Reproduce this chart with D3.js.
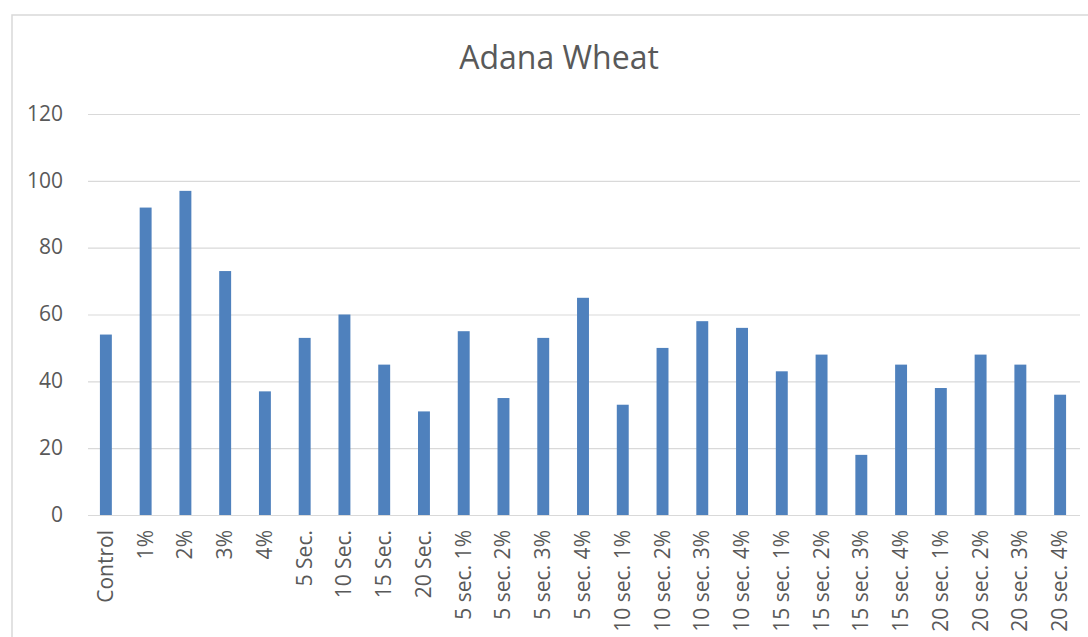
<!DOCTYPE html>
<html>
<head>
<meta charset="utf-8">
<script src="https://cdn.jsdelivr.net/npm/d3@7"></script>
<style>
  html, body { margin: 0; padding: 0; background: #ffffff; }
  svg { display: block; }
</style>
</head>
<body>
<svg id="chart" width="1088" height="637"></svg>
<script>
// Treatments along the x axis
const categories = [
  "Control", "1%", "2%", "3%", "4%",
  "5 Sec.", "10 Sec.", "15 Sec.", "20 Sec.",
  "5 sec. 1%", "5 sec. 2%", "5 sec. 3%", "5 sec. 4%",
  "10 sec. 1%", "10 sec. 2%", "10 sec. 3%", "10 sec. 4%",
  "15 sec. 1%", "15 sec. 2%", "15 sec. 3%", "15 sec. 4%",
  "20 sec. 1%", "20 sec. 2%", "20 sec. 3%", "20 sec. 4%"
];

// Measured value for each treatment
const values = [
  54, 92, 97, 73, 37,
  53, 60, 45, 31,
  55, 35, 53, 65,
  33, 50, 58, 56,
  43, 48, 18, 45,
  38, 48, 45, 36
];

// Value axis ticks
const yTicks = [0, 20, 40, 60, 80, 100, 120];

const title = "Adana Wheat";

const svg = d3.select("#chart");
const textColor = "#595959";
const gridColor = "#d9d9d9";
const barColor = "#4f81bd";
const font = "'Open Sans', 'Noto Sans', sans-serif";

// Chart frame
svg.append("rect")
  .attr("x", 12).attr("y", 15)
  .attr("width", 1200).attr("height", 700)
  .attr("fill", "#ffffff")
  .attr("stroke", gridColor)
  .attr("stroke-width", 1.5);

const x = d3.scaleBand()
  .domain(categories)
  .range([86, 1080])
  .paddingInner(0.7)
  .paddingOuter(0.35);

const y = d3.scaleLinear()
  .domain([0, 120])
  .range([515, 114]);

// Horizontal gridlines + value labels
const yAxis = d3.axisLeft(y)
  .tickValues(yTicks)
  .tickSize(-(1080 - 88))
  .tickPadding(25);

const gy = svg.append("g")
  .attr("transform", "translate(88,0)")
  .call(yAxis);
gy.select(".domain").remove();
gy.selectAll(".tick line")
  .attr("stroke", gridColor)
  .attr("stroke-width", 1.2);
gy.selectAll(".tick text")
  .attr("fill", textColor)
  .attr("font-family", font)
  .attr("font-size", 21)
  .attr("dy", "0.3em");

// Bars
svg.append("g")
  .selectAll("rect")
  .data(values)
  .join("rect")
  .attr("x", (d, i) => x(categories[i]))
  .attr("y", d => y(d))
  .attr("width", x.bandwidth())
  .attr("height", d => y(0) - y(d))
  .attr("fill", barColor);

// Category labels, rotated
const xAxis = d3.axisBottom(x).tickSize(0).tickPadding(0);
const gx = svg.append("g")
  .attr("transform", `translate(0,${y(0)})`)
  .call(xAxis);
gx.select(".domain")
  .attr("stroke", gridColor)
  .attr("stroke-width", 1.2)
  .attr("d", `M88,0.5H1080`);
gx.selectAll(".tick text")
  .attr("fill", textColor)
  .attr("font-family", font)
  .attr("font-size", 21)
  .attr("text-anchor", "end")
  .attr("dy", null)
  .attr("y", 0)
  .attr("transform", "translate(7,15) rotate(-90)");

// Title
svg.append("text")
  .attr("x", 559)
  .attr("y", 69)
  .attr("text-anchor", "middle")
  .attr("fill", textColor)
  .attr("font-family", font)
  .attr("font-size", 32)
  .text(title);
</script>
</body>
</html>
